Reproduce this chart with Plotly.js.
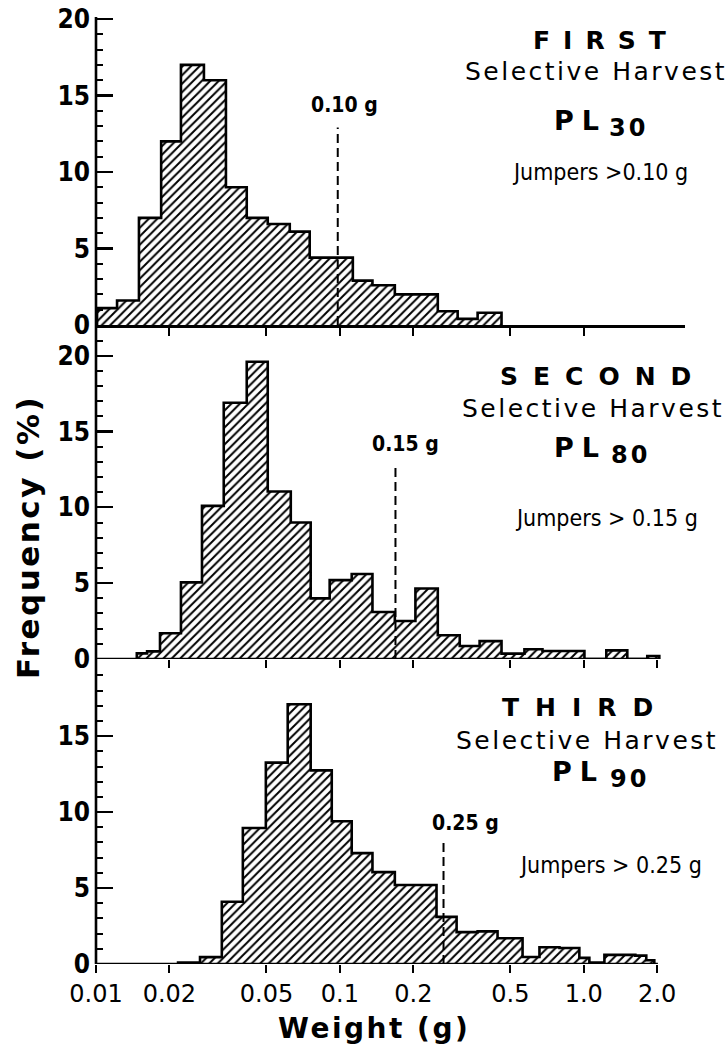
<!DOCTYPE html>
<html><head><meta charset="utf-8">
<script src="https://cdn.plot.ly/plotly-3.0.1.min.js"></script>
<style>body{margin:0;background:#fff}</style>
</head><body>
<div id="chart" style="width:726px;height:1051px"></div>
<script>
// ---- data (weights in g, frequencies in %) ----
const edgesFirst = [0.0101,0.0122,0.0150,0.0185,0.0223,0.0277,0.0341,0.0415,0.0506,0.0623,0.0752,0.0917,0.113,0.136,0.168,0.204,0.252,0.304,0.367,0.460];
const freqFirst  = [1.1,1.6,7.0,12.0,17.0,16.0,9.0,7.0,6.6,6.1,4.4,4.4,2.9,2.6,2.0,2.0,0.9,0.4,0.8];

const edgesSecond = [0.0147,0.0162,0.0183,0.0223,0.0272,0.0334,0.0415,0.0506,0.0629,0.0759,0.0908,0.1118,0.136,0.168,0.204,0.252,0.310,0.374,0.460,0.571,0.677,0.825,1.006,1.237,1.508,1.821,2.04];
const freqSecond  = [0.37,0.5,1.7,5.05,10.1,16.9,19.6,11.05,9.0,4.0,5.2,5.6,3.1,2.5,4.65,1.56,0.86,1.18,0.35,0.64,0.53,0.53,0,0.57,0,0.2];

const edgesThird = [0.0217,0.0267,0.0328,0.0400,0.0497,0.0611,0.0759,0.0926,0.1118,0.136,0.168,0.204,0.249,0.301,0.367,0.443,0.561,0.658,0.795,0.959,1.054,1.215,1.627,1.804,1.946];
const freqThird  = [0.1,0.45,4.1,8.95,13.26,17.1,12.75,9.4,7.3,6.05,5.2,5.2,3.1,2.1,2.15,1.7,0.46,1.1,1.05,0.4,0.1,0.6,0.55,0.25];

const cutoffX   = [0.098, 0.169, 0.266];   // drawn position of dashed cut-off lines
const cutoffTop = [12.9, 12.9, 8.1];
const cutoffLabels = ['0.10 g','0.15 g','0.25 g'];

const harvestNames = ['FIRST','SECOND','THIRD'];
const stageDays    = ['30','80','90'];
const jumperLabels = ['Jumpers >0.10 g','Jumpers > 0.15 g','Jumpers > 0.25 g'];

const xTickVals = [0.01,0.02,0.05,0.1,0.2,0.5,1,2];
const xTickText = ['0.01','0.02','0.05','0.1','0.2','0.5','1.0','2.0'];

// ---- helpers ----
function stepTrace(edges, h, xa, ya){
  const xs=[edges[0]], ys=[0];
  for(let i=0;i<h.length;i++){ xs.push(edges[i]); ys.push(h[i]); }
  xs.push(edges[h.length]); ys.push(h[h.length-1]);
  xs.push(edges[h.length]); ys.push(0);
  return {x:xs,y:ys,xaxis:xa,yaxis:ya,type:'scatter',mode:'lines',
    line:{shape:'hv',color:'#000',width:2.6},
    fill:'tozeroy',fillcolor:'#fff',
    fillpattern:{shape:'/',size:6,solidity:0.33,fgcolor:'#000',bgcolor:'#fff',fillmode:'replace'},
    hoverinfo:'skip',showlegend:false};
}
function cutTrace(i, xa, ya){
  return {x:[cutoffX[i],cutoffX[i]],y:[0,cutoffTop[i]],xaxis:xa,yaxis:ya,type:'scatter',mode:'lines',
    line:{color:'#000',width:2,dash:'9px,5px'},hoverinfo:'skip',showlegend:false};
}

const data = [
  stepTrace(edgesFirst,freqFirst,'x','y'),
  stepTrace(edgesSecond,freqSecond,'x2','y2'),
  stepTrace(edgesThird,freqThird,'x3','y3'),
  cutTrace(0,'x','y'), cutTrace(1,'x2','y2'), cutTrace(2,'x3','y3')
];

const COND = "'DejaVu Sans Condensed','Liberation Sans Narrow','Arial Narrow',sans-serif";
const WIDE = "'DejaVu Sans',sans-serif";

function xax(anchor, showLine, vals, labels){
  return {type:'log',range:[-2,0.415],domain:[0,1],anchor:anchor,
    showline:showLine,linecolor:'#000',linewidth:2.6,
    ticks:'outside',ticklen:8,tickwidth:2,tickcolor:'#000',
    tickmode:'array',tickvals:vals,ticktext:labels||vals.map(String),
    showticklabels:!!labels,tickfont:{family:WIDE,size:24,color:'#000'},
    showgrid:false,zeroline:false,fixedrange:true};
}
function yax(anchor, domain, range){
  return {domain:domain,range:range,anchor:anchor,
    showline:false,ticks:'inside',ticklen:17,tickwidth:2.2,tickcolor:'#000',
    tickmode:'linear',tick0:0,dtick:5,
    minor:{ticks:'inside',ticklen:7,tickwidth:2,tickcolor:'#000',dtick:1,tick0:0,showgrid:false},
    tickfont:{family:COND,size:26,color:'#000',weight:'bold'},ticklabelstandoff:5,
    showgrid:false,zeroline:false,fixedrange:true};
}

function ann(text,x,y,font){
  return {text:text,x:x,y:y,xref:'paper',yref:'paper',xanchor:'center',yanchor:'middle',showarrow:false,font:font};
}
const fHead = {family:WIDE,size:25,color:'#000',weight:'bold'};
const fPL   = {family:WIDE,size:27,color:'#000',weight:'bold'};
const fSub  = {family:WIDE,size:24,color:'#000',weight:'bold'};
const fSel  = {family:WIDE,size:25,color:'#000'};
const fJump = {family:COND,size:23,color:'#000'};
const fCut  = {family:COND,size:21,color:'#000',weight:'bold'};
const sp = (t,n,fs)=>'<span style="font-size:'+fs+'px;letter-spacing:'+n+'px">'+t+'</span>';
// paper coordinate helpers from plot-area pixels (plot area x:96..685, y:17..964)
const px = v => (v-96)/589;
const py = v => (964-v)/947;

const annotations = [];
// per-panel text positions (pixel centres)
const headPos = [[606,41,13],[603,376,15],[585,707,16]];
const selPos  = [[596,72],[593,409],[587,740]];
const plPos   = [[580,120],[580,448],[578,771]];
const subPos  = [[628,128],[630,455],[629,779]];
const jumpPos = [[600,172],[606,518],[610,865]];
const cutPos  = [[344,105],[405,444],[465,823]];
for(let i=0;i<3;i++){
  annotations.push(ann(sp(harvestNames[i],headPos[i][2],25),px(headPos[i][0]),py(headPos[i][1]),fHead));
  annotations.push(ann(sp('Selective Harvest',2.5,25),px(selPos[i][0]),py(selPos[i][1]),fSel));
  annotations.push(ann(sp('PL',8,27),px(plPos[i][0]),py(plPos[i][1]),fPL));
  annotations.push(ann(sp(stageDays[i],3,24),px(subPos[i][0]),py(subPos[i][1]),fSub));
  annotations.push(ann(jumperLabels[i],px(jumpPos[i][0]),py(jumpPos[i][1]),fJump));
  annotations.push(ann(cutoffLabels[i],px(cutPos[i][0]),py(cutPos[i][1]),fCut));
}
annotations.push({text:sp('Frequency (%)',2.5,31),x:px(28),y:py(537),xref:'paper',yref:'paper',textangle:-90,
  xanchor:'center',yanchor:'middle',showarrow:false,font:{family:WIDE,size:31,color:'#000',weight:'bold'}});
annotations.push({text:sp('Weight (g)',2.5,28),x:px(374),y:py(1028),xref:'paper',yref:'paper',
  xanchor:'center',yanchor:'middle',showarrow:false,font:{family:WIDE,size:28,color:'#000',weight:'bold'}});

const layout = {
  width:726,height:1051,margin:{l:96,r:41,t:17,b:87},
  paper_bgcolor:'#fff',plot_bgcolor:'#fff',showlegend:false,
  xaxis: xax('y',true,[0.02,0.05,0.1,0.2,0.5,1]),
  xaxis2:xax('y2',false,[0.02,0.05,0.1,0.2,0.5,1,2]),
  xaxis3:xax('y3',false,xTickVals,xTickText),
  yaxis: yax('x',[0.6748,1],[0,20.13]),
  yaxis2:yax('x2',[0.3221,0.6727],[0,21.9]),
  yaxis3:yax('x3',[0,0.3200],[0,19.95]),
  shapes:[
    {type:'line',xref:'paper',yref:'paper',x0:0,x1:0,y0:0,y1:1,line:{color:'#000',width:2.6}},
    {type:'line',xref:'x2 domain',yref:'y2',x0:0,x1:0.9576,y0:0,y1:0,line:{color:'#000',width:2.6}},
    {type:'line',xref:'x3 domain',yref:'y3',x0:0,x1:0.954,y0:0,y1:0,line:{color:'#000',width:2.6}}
  ],
  annotations:annotations
};

Plotly.newPlot('chart',data,layout,{staticPlot:true,displayModeBar:false});
</script>
</body></html>
